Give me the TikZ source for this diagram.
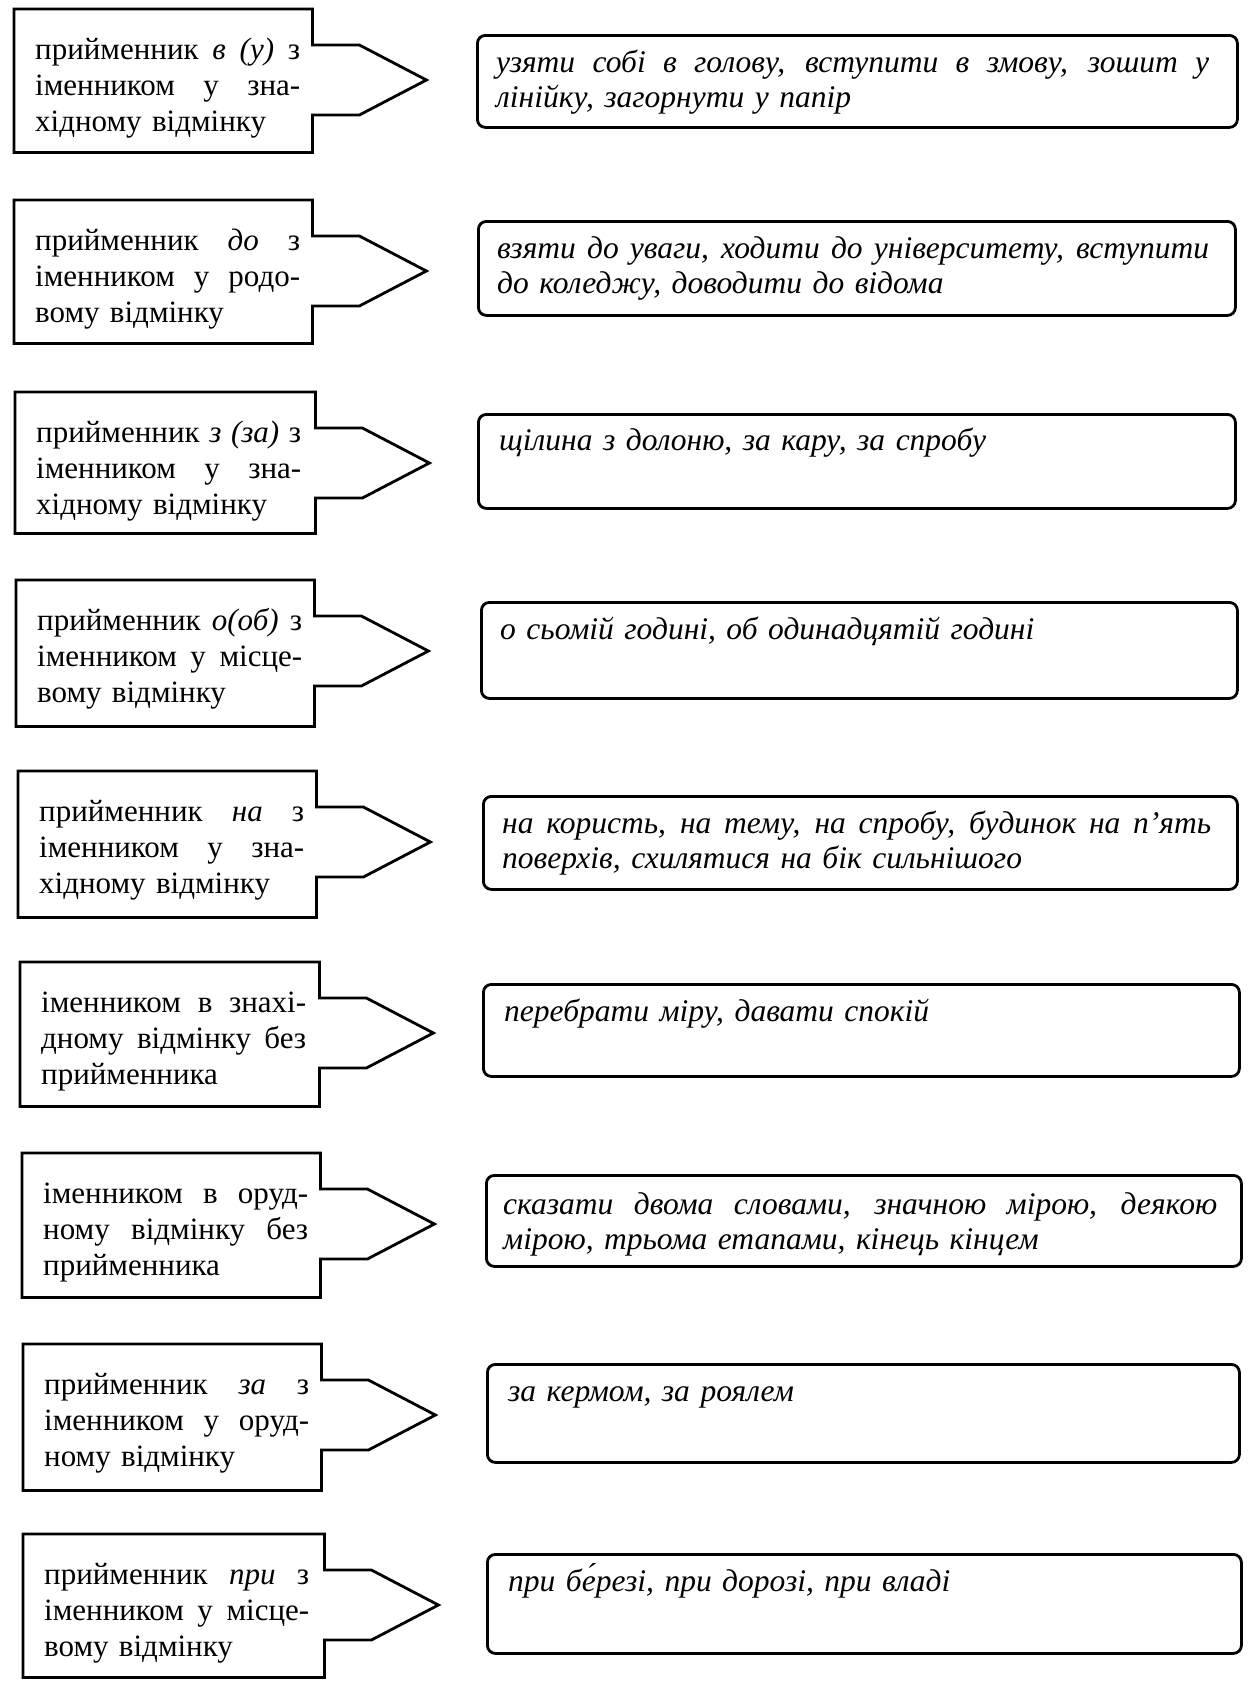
\documentclass[tikz,border=0pt]{standalone}
\usepackage{fontspec}
\setmainfont{Liberation Serif}
\usetikzlibrary{calc}

\tikzset{
  boxline/.style={draw=black, line width=2.8pt, line join=miter},
  leftbox/.style={inner sep=0pt, anchor=north west},
  lefttext/.style={inner sep=0pt, anchor=base west, text width=265pt, align=left,
    font=\fontsize{31}{36}\selectfont},
  exbox/.style={draw=black, line width=2.8pt, rounded corners=8pt, inner sep=0pt, anchor=north west},
  extext/.style={inner sep=0pt, anchor=base west, align=left,
    font=\fontsize{31.5}{35}\selectfont\itshape},
}

% outline of a box with a pointer on its right side
\newcommand\pointerbox[1]{%
  \draw[boxline] (#1.north west) -- (#1.north east)
    -- ($(#1.north east)+(0,36)$) -- ($(#1.north east)+(47,36)$)
    -- ($(#1.north east)+(114,71)$)
    -- ($(#1.north east)+(47,106)$) -- ($(#1.north east)+(0,106)$)
    -- (#1.south east) -- (#1.south west) -- cycle;}
% a justified line spanning the full text width (stretchable word spaces)
\newcommand\jl[1]{\makebox[\hsize][s]{\spaceskip=0pt\xspaceskip=0pt #1}}

\begin{document}
\begin{tikzpicture}[x=1pt,y=-1pt]
\useasboundingbox (0,0) rectangle (1251,1682);

% ---- row 1
\node[leftbox, minimum width=298pt, minimum height=143pt] (l1) at (14,9) {};
\pointerbox{l1}
\node[lefttext] (lt1) at ($(l1.north west)+(21,50)$)
  {\jl{прийменник \textit{в (у)} з}\\ \jl{іменником у зна-}\\ хідному відмінку};
\node[exbox, minimum width=760pt, minimum height=92pt] (r1) at (476,34) {};
\node[extext, text width=713pt] (rt1) at ($(r1.north west)+(20,38)$)
  {\jl{узяти собі в голову, вступити в змову, зошит у}\\ лінійку, загорнути у папір};

% ---- row 2
\node[leftbox, minimum width=298pt, minimum height=143pt] (l2) at (14,200) {};
\pointerbox{l2}
\node[lefttext] (lt2) at ($(l2.north west)+(21,50)$)
  {\jl{прийменник \textit{до} з}\\ \jl{іменником у родо-}\\ вому відмінку};
\node[exbox, minimum width=757pt, minimum height=94pt] (r2) at (477,220) {};
\node[extext, text width=712pt] (rt2) at ($(r2.north west)+(20,38)$)
  {\jl{взяти до уваги, ходити до університету, вступити}\\ до коледжу, доводити до відома};

% ---- row 3
\node[leftbox, minimum width=300pt, minimum height=141pt] (l3) at (15,392) {};
\pointerbox{l3}
\node[lefttext] (lt3) at ($(l3.north west)+(21,50)$)
  {\jl{прийменник \textit{з (за)} з}\\ \jl{іменником у зна-}\\ хідному відмінку};
\node[exbox, minimum width=757pt, minimum height=94pt] (r3) at (477,413) {};
\node[extext, text width=712pt] (rt3) at ($(r3.north west)+(22,37)$)
  {щілина з долоню, за кару, за спробу};

% ---- row 4
\node[leftbox, minimum width=298pt, minimum height=146pt] (l4) at (16,580) {};
\pointerbox{l4}
\node[lefttext] (lt4) at ($(l4.north west)+(21,50)$)
  {\jl{прийменник \textit{о(об)} з}\\ \jl{іменником у місце-}\\ вому відмінку};
\node[exbox, minimum width=756pt, minimum height=96pt] (r4) at (480,601) {};
\node[extext, text width=711pt] (rt4) at ($(r4.north west)+(20,38)$)
  {о сьомій годині, об одинадцятій годині};

% ---- row 5
\node[leftbox, minimum width=298pt, minimum height=146pt] (l5) at (18,771) {};
\pointerbox{l5}
\node[lefttext] (lt5) at ($(l5.north west)+(21,50)$)
  {\jl{прийменник \textit{на} з}\\ \jl{іменником у зна-}\\ хідному відмінку};
\node[exbox, minimum width=754pt, minimum height=93pt] (r5) at (482,795) {};
\node[extext, text width=709pt] (rt5) at ($(r5.north west)+(20,38)$)
  {\jl{на користь, на тему, на спробу, будинок на п’ять}\\ поверхів, схилятися на бік сильнішого};

% ---- row 6
\node[leftbox, minimum width=299pt, minimum height=144pt] (l6) at (20,962) {};
\pointerbox{l6}
\node[lefttext] (lt6) at ($(l6.north west)+(21,50)$)
  {\jl{іменником в знахі-}\\ \jl{дному відмінку без}\\ прийменника};
\node[exbox, minimum width=756pt, minimum height=92pt] (r6) at (482,983) {};
\node[extext, text width=711pt] (rt6) at ($(r6.north west)+(22,38)$)
  {перебрати міру, давати спокій};

% ---- row 7
\node[leftbox, minimum width=298pt, minimum height=144pt] (l7) at (22,1153) {};
\pointerbox{l7}
\node[lefttext] (lt7) at ($(l7.north west)+(21,50)$)
  {\jl{іменником в оруд-}\\ \jl{ному відмінку без}\\ прийменника};
\node[exbox, minimum width=755pt, minimum height=91pt] (r7) at (485,1174) {};
\node[extext, text width=714pt] (rt7) at ($(r7.north west)+(18,40)$)
  {\jl{сказати двома словами, значною мірою, деякою}\\ мірою, трьома етапами, кінець кінцем};

% ---- row 8
\node[leftbox, minimum width=298pt, minimum height=146pt] (l8) at (23,1344) {};
\pointerbox{l8}
\node[lefttext] (lt8) at ($(l8.north west)+(21,50)$)
  {\jl{прийменник \textit{за} з}\\ \jl{іменником у оруд-}\\ ному відмінку};
\node[exbox, minimum width=752pt, minimum height=98pt] (r8) at (486,1363) {};
\node[extext, text width=707pt] (rt8) at ($(r8.north west)+(22,38)$)
  {за кермом, за роялем};

% ---- row 9
\node[leftbox, minimum width=301pt, minimum height=143pt] (l9) at (23,1534) {};
\pointerbox{l9}
\node[lefttext] (lt9) at ($(l9.north west)+(21,50)$)
  {\jl{прийменник \textit{при} з}\\ \jl{іменником у місце-}\\ вому відмінку};
\node[exbox, minimum width=754pt, minimum height=99pt] (r9) at (486,1553) {};
\node[extext, text width=709pt] (rt9) at ($(r9.north west)+(22,38)$)
  {при бе́резі, при дорозі, при владі};
\end{tikzpicture}
\end{document}
